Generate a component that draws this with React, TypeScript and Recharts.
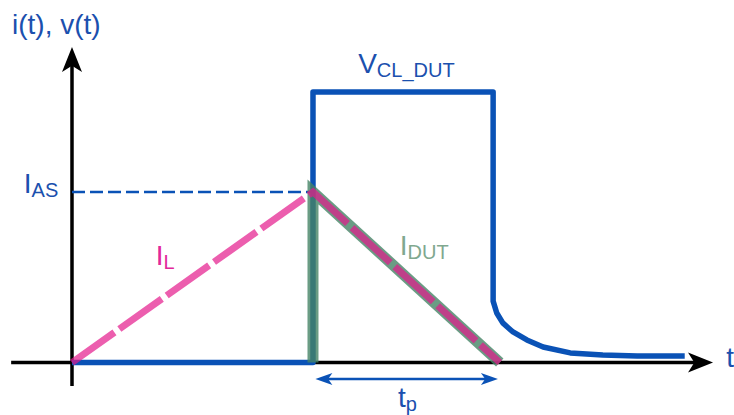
import { Line, LineChart, ReferenceDot, ReferenceLine, XAxis, YAxis } from 'recharts';

/*
 * UIS (unclamped inductive switching) waveform sketch:
 * inductor current ramps to I_AS, then DUT avalanches at V_CL_DUT for t_p.
 */

// time axis (arbitrary units), current normalised to I_AS = 1
const VDS_T = [0, 4, 4, 6.99, 6.99, 7.05, 7.15, 7.32, 7.55, 7.82, 8.27, 8.81, 9.38, 10.17];
const VDS_V = [0, 0, 1.587, 1.587, 0.36, 0.29, 0.232, 0.179, 0.132, 0.091, 0.056, 0.044, 0.038, 0.038];

const IL_T = [0, 4, 7.1];
const IL_V = [0, 1, 0];

const IDUT_T = [4, 4, 7.1];
const IDUT_V = [0, 1, 0];

const I_AS = 1;
const TP_START = 4.04;
const TP_END = 7.07;
const TP_LEVEL = -0.097;

// axis extents
const T_AXIS = [-1.01, 10.64];
const V_AXIS = [-0.138, 1.85];

const X_DOMAIN: [number, number] = [-1.195, 10.988];
const Y_DOMAIN: [number, number] = [-0.308, 2.126];

const BLUE = '#0a52b6';
const TEXT_BLUE = '#1b50ae';
const PINK = '#e41a8b';
const PINK_TEXT = '#e2279a';
const GREEN = '#458365';
const GREEN_TEXT = '#80a88f';
const FONT = '"Liberation Sans", Arial, sans-serif';

const zip = (ts: number[], vs: number[]) => ts.map((t, i) => ({ t, v: vs[i] }));

const vdsData = zip(VDS_T, VDS_V);
const ilData = zip(IL_T, IL_V);
const idutData = zip(IDUT_T, IDUT_V);

// label anchors (data units)
const LABELS = [
  { t: -0.996, v: 1.927, main: 'i(t), v(t)', sub: '', color: TEXT_BLUE },
  { t: -0.8, v: 0.994, main: 'I', sub: 'AS', color: TEXT_BLUE },
  { t: 4.75, v: 1.698, main: 'V', sub: 'CL_DUT', color: TEXT_BLUE },
  { t: 1.39, v: 0.572, main: 'I', sub: 'L', color: PINK_TEXT },
  { t: 5.44, v: 0.63, main: 'I', sub: 'DUT', color: GREEN_TEXT },
  { t: 5.41, v: -0.261, main: 't', sub: 'p', color: TEXT_BLUE },
  { t: 10.86, v: -0.026, main: 't', sub: '', color: TEXT_BLUE },
];

type ArrowProps = {
  x1?: number;
  y1?: number;
  x2?: number;
  y2?: number;
};

function arrowShape(color: string, width: number, len: number, half: number, both: boolean) {
  return (p: ArrowProps) => {
    const x1 = Number(p.x1);
    const y1 = Number(p.y1);
    const x2 = Number(p.x2);
    const y2 = Number(p.y2);
    const d = Math.hypot(x2 - x1, y2 - y1) || 1;
    const ux = (x2 - x1) / d;
    const uy = (y2 - y1) / d;
    const head = (tx: number, ty: number, dx: number, dy: number) => {
      const bx = tx - dx * len;
      const by = ty - dy * len;
      const px = -dy * half;
      const py = dx * half;
      return `${tx},${ty} ${bx + px},${by + py} ${bx + dx * len * 0.25},${by + dy * len * 0.25} ${bx - px},${by - py}`;
    };
    const sx = both ? x1 + ux * len * 0.7 : x1;
    const sy = both ? y1 + uy * len * 0.7 : y1;
    return (
      <g>
        <line
          x1={sx}
          y1={sy}
          x2={x2 - ux * len * 0.7}
          y2={y2 - uy * len * 0.7}
          stroke={color}
          strokeWidth={width}
        />
        <polygon points={head(x2, y2, ux, uy)} fill={color} />
        {both && <polygon points={head(x1, y1, -ux, -uy)} fill={color} />}
      </g>
    );
  };
}

function labelShape(main: string, sub: string, color: string) {
  return (p: { cx?: number; cy?: number }) => (
    <text x={p.cx} y={p.cy} fill={color} fontFamily={FONT} fontSize={28}>
      <tspan>{main}</tspan>
      {sub && (
        <tspan fontSize={20} dy={4}>
          {sub}
        </tspan>
      )}
    </text>
  );
}

export default function App() {
  return (
    <div style={{ position: 'absolute', left: 0, top: 0, width: 734, height: 415, background: '#fff' }}>
      <LineChart width={734} height={415} margin={{ top: 0, right: 0, bottom: 0, left: 0 }}>
        <XAxis dataKey="t" type="number" domain={X_DOMAIN} allowDataOverflow hide />
        <YAxis dataKey="v" type="number" domain={Y_DOMAIN} allowDataOverflow hide />

        {/* axes with arrows */}
        <ReferenceLine
          segment={[{ x: T_AXIS[0], y: 0 }, { x: T_AXIS[1], y: 0 }]}
          ifOverflow="visible"
          shape={arrowShape('#000', 3.5, 25, 10, false)}
        />
        <ReferenceLine
          segment={[{ x: 0, y: V_AXIS[0] }, { x: 0, y: V_AXIS[1] }]}
          ifOverflow="visible"
          shape={arrowShape('#000', 3.5, 25, 10, false)}
        />

        {/* I_AS level */}
        <ReferenceLine
          segment={[{ x: 0, y: I_AS }, { x: 4, y: I_AS }]}
          ifOverflow="visible"
          stroke={BLUE}
          strokeWidth={2.5}
          strokeDasharray="13 5"
        />

        <Line
          data={vdsData}
          dataKey="v"
          type="linear"
          stroke={BLUE}
          strokeWidth={5.5}
          strokeLinejoin="round"
          dot={false}
          activeDot={false}
          isAnimationActive={false}
        />
        <Line
          data={idutData}
          dataKey="v"
          type="linear"
          stroke={GREEN}
          strokeOpacity={0.8}
          strokeWidth={11}
          strokeLinejoin="miter"
          dot={false}
          activeDot={false}
          isAnimationActive={false}
        />
        <Line
          data={ilData}
          dataKey="v"
          type="linear"
          stroke={PINK}
          strokeOpacity={0.7}
          strokeWidth={7}
          strokeDasharray="52 6"
          dot={false}
          activeDot={false}
          isAnimationActive={false}
        />

        {/* t_p span */}
        <ReferenceLine
          segment={[{ x: TP_START, y: TP_LEVEL }, { x: TP_END, y: TP_LEVEL }]}
          ifOverflow="visible"
          shape={arrowShape(BLUE, 2.5, 17, 6, true)}
        />

        {LABELS.map((l) => (
          <ReferenceDot
            key={l.main + l.sub + l.t}
            x={l.t}
            y={l.v}
            ifOverflow="visible"
            shape={labelShape(l.main, l.sub, l.color)}
          />
        ))}
      </LineChart>
    </div>
  );
}
